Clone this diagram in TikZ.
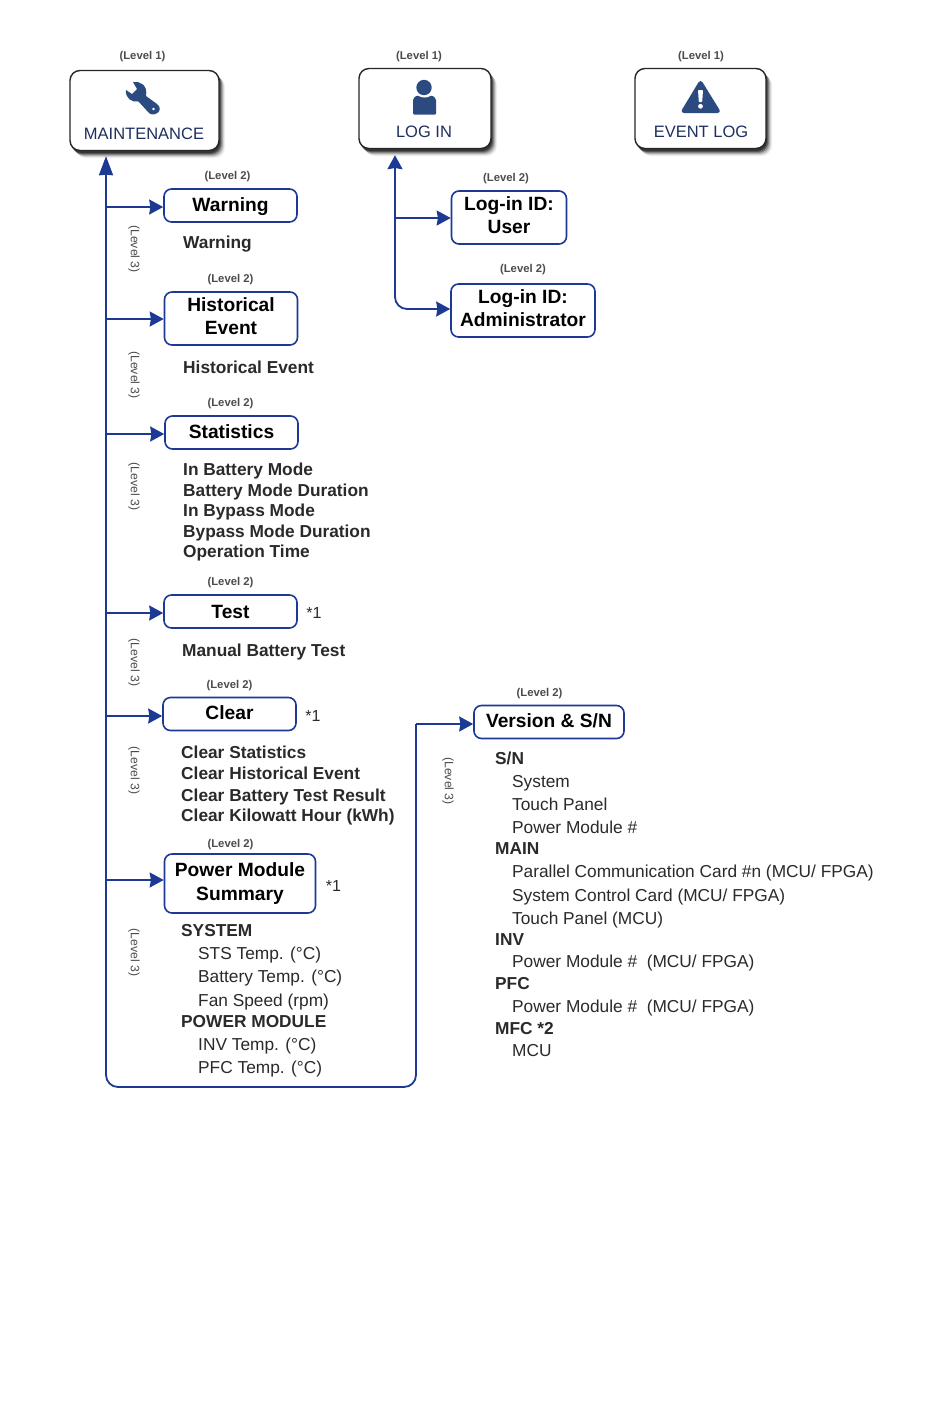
\documentclass[tikz,border=0pt]{standalone}
\usepackage{fontspec}
\setmainfont{Liberation Sans}
\usetikzlibrary{arrows.meta,calc}
\definecolor{navy}{HTML}{1C3A94}
\definecolor{icon}{HTML}{2B4A7F}
\definecolor{ink}{HTML}{2A2A2A}
\definecolor{topink}{HTML}{1F2F5F}
\tikzset{
  x=1pt,y=-1pt,
  lvl/.style={font=\fontsize{11.3}{12}\selectfont\bfseries,text=black!70,inner sep=0,anchor=base},
  lvlr/.style={font=\fontsize{12.2}{12}\selectfont,text=black!70,inner sep=0,rotate=-90},
  topbox/.style={draw=black!85,line width=1.4pt,rounded corners=10pt,fill=white,minimum height=80,inner sep=0},
  subbox/.style={draw=navy,line width=1.6pt,rounded corners=7.5pt,fill=white,inner sep=0},
  subtxt/.style={font=\fontsize{19.2}{23}\selectfont\bfseries,text=black,align=center,inner sep=0},
  toplabel/.style={font=\fontsize{16.5}{19}\selectfont,text=topink,inner sep=0,anchor=base},
  item/.style={font=\fontsize{17.3}{20}\selectfont\bfseries,text=ink,anchor=base west,inner sep=0},
  plain/.style={font=\fontsize{17.3}{20}\selectfont,text=ink,anchor=base west,inner sep=0},
  star/.style={font=\fontsize{16}{18}\selectfont,text=ink,inner sep=0},
  conn/.style={draw=navy,line width=1.8pt,-{Stealth[length=14pt,width=15pt,inset=1.2pt]}},
  upconn/.style={draw=navy,line width=1.8pt,-{Stealth[length=19pt,width=14pt,inset=0.5pt]}},
}
\newcommand{\shadowbox}[4]{% x1 y1 x2 y2
  \foreach \o/\a in {7/0.06,6/0.10,5/0.16,4/0.24,3/0.34,2/0.4}{
    \fill[black,opacity=\a,rounded corners=10pt] (#1+\o-1,#2+\o) rectangle (#3+\o-1,#4+\o);
  }
}
\begin{document}
\begin{tikzpicture}
\useasboundingbox (0,0) rectangle (950,1406);
\fill[white] (0,0) rectangle (950,1406);
% Top boxes
\shadowbox{70}{70}{219}{151}
\shadowbox{359}{68}{491}{149}
\shadowbox{635}{68}{766}{149}
\node[topbox,minimum width=149] (maint) at (144.5,110.5) {};
\node[topbox,minimum width=132] (login) at (425,108.5) {};
\node[topbox,minimum width=131] (evlog) at (700.5,108.5) {};
\node[toplabel] (mainttxt) at (144,139) {MAINTENANCE};
\node[toplabel] (logintxt) at (424,137.5) {LOG IN};
\node[toplabel] (evlogtxt) at (701,137.5) {EVENT LOG};
\node[lvl] (l1a) at (142.5,59) {(Level 1)};
\node[lvl] (l1b) at (419,59) {(Level 1)};
\node[lvl] (l1c) at (701,59) {(Level 1)};
% wrench icon
\fill[icon,even odd rule]
  (133,82) .. controls (140,81) and (148,85) .. (146,96)
  -- (157,104) .. controls (161,107) and (160,111) .. (158,112.5)
  .. controls (155,115) and (151,115) .. (149,113)
  -- (138.5,101.5) .. controls (132,103) and (125,98) .. (126,90)
  -- (132,94) -- (137,89) -- cycle
  (153.5,109) circle[radius=1.7];
% person icon
\fill[icon] (424,87.5) circle[radius=7.7];
\fill[icon,rounded corners=1pt] (413,114.5) -- (413,101) .. controls (413,97.5) and (416,96) .. (418,95.5) .. controls (421,98) and (428,98) .. (431,95.5) .. controls (433,96) and (436,97.5) .. (436,101) -- (436,114.5) -- cycle;
% warning icon
\fill[icon,rounded corners=4pt] (700.5,79) -- (721.5,113) -- (680,113) -- cycle;
\fill[white,rounded corners=0.8pt] (698,90) -- (703,90) -- (702.2,102) -- (698.8,102) -- cycle;
\fill[white] (700.5,106.3) circle[radius=2.4];
% Left level-2 boxes
\node[subbox,minimum width=133,minimum height=33,label={[subtxt,yshift=-1pt]center:Warning}] (warn) at (230.5,205.5) {};
\node[lvl] at (227.5,179) {(Level 2)};
\node[subbox,minimum width=133,minimum height=53,label={[subtxt,yshift=2pt]center:Historical\\Event}] (hist) at (231,318.5) {};
\node[lvl] at (230.5,282) {(Level 2)};
\node[subbox,minimum width=133,minimum height=33,label={[subtxt,yshift=1pt]center:Statistics}] (stat) at (231.5,432.5) {};
\node[lvl] at (230.5,406) {(Level 2)};
\node[subbox,minimum width=133,minimum height=33,label={[subtxt]center:Test}] (test) at (230.5,611.5) {};
\node[lvl] at (230.5,585.5) {(Level 2)};
\node[subbox,minimum width=133,minimum height=33,label={[subtxt,yshift=1pt]center:Clear}] (clear) at (229.5,714) {};
\node[lvl] at (229.5,688) {(Level 2)};
\node[subbox,minimum width=151,minimum height=59,label={[subtxt]center:Power Module\\[1pt]Summary}] (pms) at (240,883.5) {};
\node[lvl] at (230.5,847) {(Level 2)};
\node[star] at (314,613) {*1};
\node[star] at (313,715.5) {*1};
\node[star] at (333.5,886) {*1};
% right level-2 boxes
\node[subbox,minimum width=115,minimum height=53,label={[subtxt,yshift=2pt]center:Log-in ID:\\User}] (user) at (509,217.5) {};
\node[lvl] at (506,181) {(Level 2)};
\node[subbox,minimum width=144,minimum height=53,label={[subtxt,yshift=2pt]center:Log-in ID:\\Administrator}] (admin) at (523,310.5) {};
\node[lvl] at (523,272.5) {(Level 2)};
\node[subbox,minimum width=150,minimum height=33,label={[subtxt,yshift=1pt]center:Version \& S/N}] (ver) at (549,722) {};
\node[lvl] at (539.5,696.5) {(Level 2)};
% connectors
\coordinate (mtip) at ($(maint.south -| 106,0)+(0,5)$);
\coordinate (ltip) at ($(login.south -| 395,0)+(0,6)$);
\coordinate (bl) at (106,1087);
\coordinate (br) at (416,1087);
\coordinate (vj) at (416,724);
\draw[upconn,rounded corners=12pt] (vj) -- (br) -- (bl) -- (mtip);
\draw[conn] (vj) -- (ver.west |- vj);
\draw[conn] (106,207) -- (warn.west |- 0,207);
\draw[conn] (106,319) -- (hist.west |- 0,319);
\draw[conn] (106,434) -- (stat.west |- 0,434);
\draw[conn] (106,613) -- (test.west |- 0,613);
\draw[conn] (106,716) -- (clear.west |- 0,716);
\draw[conn] (106,880) -- (pms.west |- 0,880);
\draw[conn] (395,218) -- (ltip);
\draw[conn] (395,218) -- (user.west |- 0,218);
\draw[conn,rounded corners=12pt] (395,218) -- (395,309) -- (admin.west |- 0,309);
% Level 3 labels
\node[lvlr] at (134,249) {(Level 3)};
\node[lvlr] at (134,375) {(Level 3)};
\node[lvlr] at (134,486.5) {(Level 3)};
\node[lvlr] at (134,662.5) {(Level 3)};
\node[lvlr] at (134,770.5) {(Level 3)};
\node[lvlr] at (134,952.5) {(Level 3)};
\node[lvlr] at (448,781) {(Level 3)};
% lists
\node[item] at (183,248) {Warning};
\node[item] at (183,373) {Historical Event};
\node[item] at (183,475) {In Battery Mode};
\node[item] at (183,496) {Battery Mode Duration};
\node[item] at (183,516) {In Bypass Mode};
\node[item] at (183,537) {Bypass Mode Duration};
\node[item] at (183,557.5) {Operation Time};
\node[item] at (182,656) {Manual Battery Test};
\node[item] at (181,758.5) {Clear Statistics};
\node[item] at (181,779.5) {Clear Historical Event};
\node[item] at (181,801) {Clear Battery Test Result};
\node[item] at (181,821.5) {Clear Kilowatt Hour (kWh)};
\node[item] at (181,936.5) {SYSTEM};
\node[plain] at (198,959) {STS Temp. (°C)};
\node[plain] at (198,982.5) {Battery Temp. (°C)};
\node[plain] at (198,1006) {Fan Speed (rpm)};
\node[item] at (181,1027.5) {POWER MODULE};
\node[plain] at (198,1050) {INV Temp. (°C)};
\node[plain] at (198,1073) {PFC Temp. (°C)};
\node[item] at (495,764.5) {S/N};
\node[plain] at (512,787.5) {System};
\node[plain] at (512,810.5) {Touch Panel};
\node[plain] at (512,833.5) {Power Module \#};
\node[item] at (495,854.5) {MAIN};
\node[plain] at (512,877.5) {Parallel Communication Card \#n (MCU/ FPGA)};
\node[plain] at (512,901) {System Control Card (MCU/ FPGA)};
\node[plain] at (512,924) {Touch Panel (MCU)};
\node[item] at (495,945.5) {INV};
\node[plain] at (512,967.5) {Power Module \#\ \ (MCU/ FPGA)};
\node[item] at (495,989.5) {PFC};
\node[plain] at (512,1012.5) {Power Module \#\ \ (MCU/ FPGA)};
\node[item] at (495,1034) {MFC *2};
\node[plain] at (512,1056.5) {MCU};
\end{tikzpicture}
\end{document}
